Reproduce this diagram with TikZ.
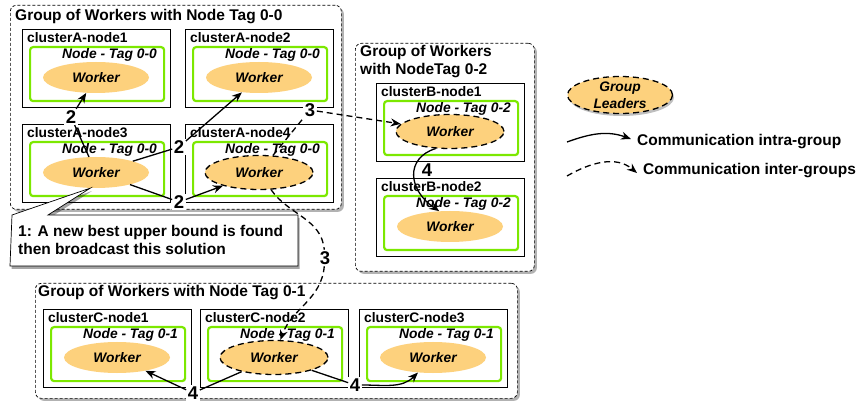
\documentclass[tikz,border=0pt]{standalone}
\usepackage{fontspec}
\setmainfont{Liberation Sans}
\usetikzlibrary{arrows.meta,shadows,shapes.geometric}
\definecolor{wfill}{RGB}{253,209,125}
\definecolor{limeg}{RGB}{124,232,0}
\tikzset{
 grp/.style={draw=black, dash pattern=on 3pt off 2pt, line width=0.7pt, rounded corners=6pt, fill=white,
   drop shadow={shadow xshift=2.5pt, shadow yshift=-2.5pt, fill=black, opacity=0.3}, inner sep=0},
 gtitle/.style={font=\fontsize{15.5}{18}\selectfont\bfseries, inner sep=0},
 cbox/.style={draw=black, line width=0.7pt, fill=white, minimum width=148pt, minimum height=78pt, inner sep=0},
 ctitle/.style={font=\fontsize{13.8}{16}\selectfont\bfseries, inner sep=0},
 gbox/.style={draw=limeg, line width=2.2pt, rounded corners=3pt, minimum width=134pt, minimum height=54pt, inner sep=0},
 tagtext/.style={font=\fontsize{13.8}{16}\selectfont\bfseries\itshape, inner sep=0},
 worker/.style={ellipse, fill=wfill, minimum width=106pt, minimum height=31pt, inner sep=0, font=\fontsize{13.8}{16}\selectfont\bfseries\itshape},
 leader/.style={worker, draw=black, line width=1.3pt, dash pattern=on 6pt off 4pt, minimum width=108pt, minimum height=34pt},
 num/.style={font=\fontsize{18.5}{21}\selectfont\bfseries, fill=white, inner sep=1.5pt},
 conn/.style={draw=black, line width=1.3pt, -{Stealth[length=10pt,width=8pt]}},
 iconn/.style={conn, dash pattern=on 6pt off 4pt},
 legtext/.style={font=\fontsize{15.5}{18}\selectfont\bfseries, inner sep=0},
 calltext/.style={font=\fontsize{15.5}{18}\selectfont\bfseries, inner sep=0},
}
\newcommand\mkcluster[6]{%
 \node[cbox, anchor=north west] (#1) at (#2,#3) {};
 \node[ctitle, anchor=base west] (#1t) at (#2+5,#3+14) {#4};
 \node[gbox, anchor=north west] (#1g) at (#2+7,#3+17) {};
 \node[tagtext, anchor=base east] (#1n) at (#2+135,#3+30) {#5};
 \node[#6] (w#1) at (#2+74,#3+48.5) {Worker};
}
\begin{document}
\begin{tikzpicture}[x=1pt,y=-1pt]
\useasboundingbox (0,0) rectangle (865,403);
% groups
\node[grp, minimum width=331pt, minimum height=204pt, anchor=north west] (gA) at (10,5) {};
\node[gtitle, anchor=base west] (gAt) at (15,21) {Group of Workers with Node Tag 0-0};
\node[grp, minimum width=179pt, minimum height=228pt, anchor=north west] (gB) at (355,43) {};
\node[gtitle, anchor=base west] (gBt1) at (360,57) {Group of Workers};
\node[gtitle, anchor=base west] (gBt2) at (360,75) {with NodeTag 0-2};
\node[grp, minimum width=482pt, minimum height=115pt, anchor=north west] (gC) at (35,283) {};
\node[gtitle, anchor=base west] (gCt) at (38,297) {Group of Workers with Node Tag 0-1};
% clusters
\mkcluster{A1}{22}{29}{clusterA-node1}{Node - Tag 0-0}{worker}
\mkcluster{A2}{185}{29}{clusterA-node2}{Node - Tag 0-0}{worker}
\mkcluster{A3}{22}{124}{clusterA-node3}{Node - Tag 0-0}{worker}
\mkcluster{A4}{185}{124}{clusterA-node4}{Node - Tag 0-0}{leader}
\mkcluster{B1}{376}{83}{clusterB-node1}{Node - Tag 0-2}{leader}
\mkcluster{B2}{376}{178}{clusterB-node2}{Node - Tag 0-2}{worker}
\mkcluster{C1}{43}{309}{clusterC-node1}{Node - Tag 0-1}{worker}
\mkcluster{C2}{200}{309}{clusterC-node2}{Node - Tag 0-1}{leader}
\mkcluster{C3}{359}{309}{clusterC-node3}{Node - Tag 0-1}{worker}
% callout
\filldraw[draw=black, line width=0.7pt, fill=white, drop shadow={shadow xshift=1.5pt, shadow yshift=-3pt, fill=black, opacity=0.35}]
  (12,215) -- (wA3.250) -- (48,215) -- (298,215) -- (298,266) -- (10,266) -- cycle;
\node[calltext, anchor=base west] (co1) at (18,237) {1: A new best upper bound is found};
\node[calltext, anchor=base west] (co2) at (18,255) {then broadcast this solution};
% number labels
\node[num] (lA12) at (71,117) {2};
\node[num] (lA32) at (179,147) {2};
\node[num] (lA42) at (179,202) {2};
\node[num] (l3B) at (310,110) {3};
\node[num] (l3C) at (325,258) {3};
\node[num] (l4B) at (427,170) {4};
\node[num] (l4C1) at (193,393) {4};
\node[num] (l4C3) at (355,385) {4};
% connectors
\draw[conn] (wA3) -- (lA12) -- (wA1);
\draw[conn] (wA3) -- (lA32) -- (wA2);
\draw[conn] (wA3) -- (lA42) -- (wA4);
\draw[iconn] (wA4) -- (l3B) -- (wB1);
\draw[iconn] (wA4) to[out=-55,in=95] (l3C) to[out=-95,in=70] (wC2);
\draw[conn] (wB1.-130) .. controls (405,158) and (408,190) .. (wB2.125);
\draw[conn] (wC2) -- (l4C1) -- (wC1);
\draw[conn] (wC2) -- (l4C3) to[out=0,in=-135] (wC3);
% legend
\node[worker, draw=black, line width=1.3pt, dash pattern=on 6pt off 4pt, minimum width=105pt, minimum height=37pt,
  drop shadow={shadow xshift=1.5pt, shadow yshift=-2.5pt, fill=black, opacity=0.25}] (lgL) at (620,95) {};
\node[tagtext, anchor=base] (lgL1) at (620,92) {Group};
\node[tagtext, anchor=base] (lgL2) at (620,109) {Leaders};
\coordinate (lg1a) at (567,142);
\node[legtext, anchor=base west] (lg1t) at (637,146) {Communication intra-group};
\draw[conn] (lg1a) to[out=20,in=160] ([shift={(-6,-3)}]lg1t.west);
\coordinate (lg2a) at (567,176);
\node[legtext, anchor=base west] (lg2t) at (643,175) {Communication inter-groups};
\draw[iconn] (lg2a) to[out=30,in=140] ([shift={(-6,2)}]lg2t.west);
\end{tikzpicture}
\end{document}
